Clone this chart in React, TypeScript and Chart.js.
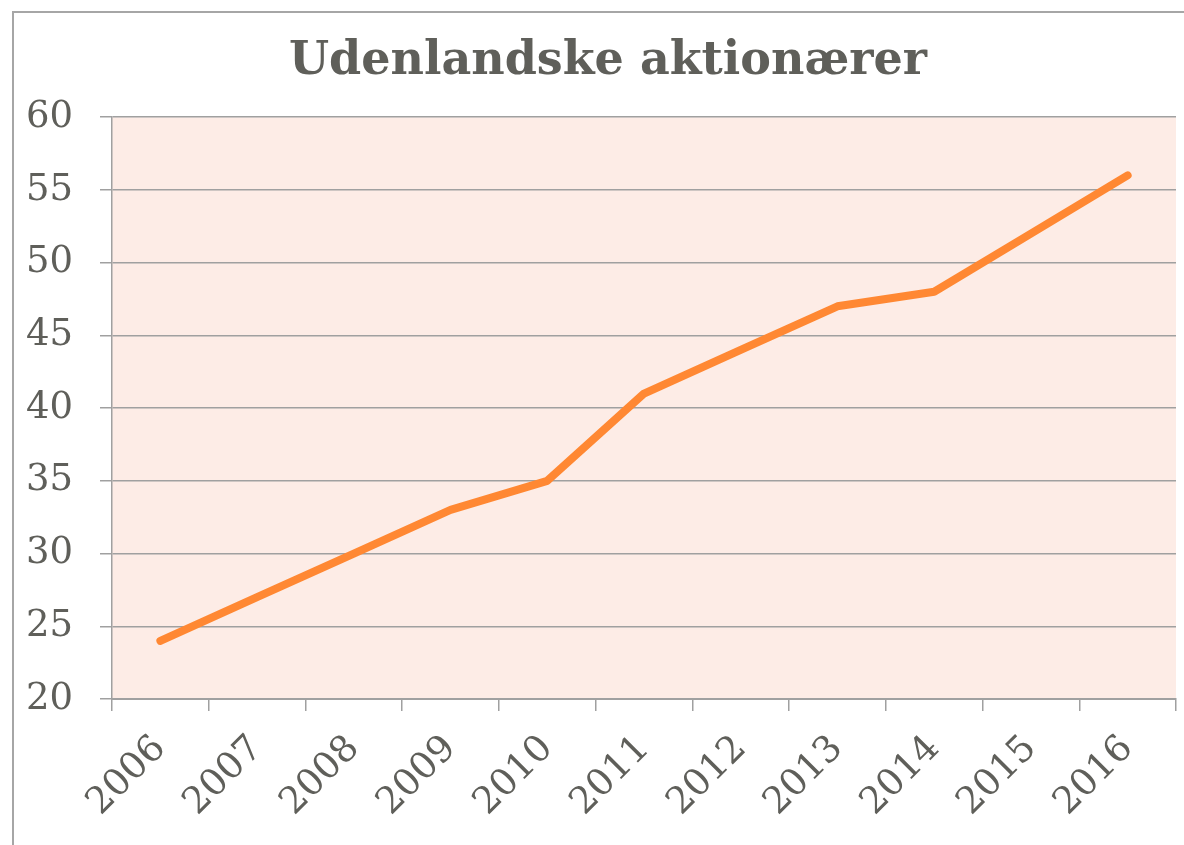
import React, { useEffect, useRef } from "react";
import { Chart, registerables } from "chart.js";

Chart.register(...registerables);

const years = ["2006", "2007", "2008", "2009", "2010", "2011", "2012", "2013", "2014", "2015", "2016"];
const foreignShare = [24, 27, 30, 33, 35, 41, 44, 47, 48, 52, 56];
const chartTitle = "Udenlandske aktionærer";
const yMin = 20;
const yMax = 60;
const yStep = 5;

const TEXT = "#5F5F5A";
const GRID = "#A0A0A0";

const plotBg = {
  id: "plotBg",
  beforeDraw(chart: any) {
    const { ctx, chartArea } = chart;
    ctx.save();
    ctx.fillStyle = "#FDECE6";
    ctx.fillRect(chartArea.left, chartArea.top, chartArea.right - chartArea.left, chartArea.bottom - chartArea.top);
    ctx.restore();
  },
};

// shift the title box so the title is centred where the reference has it
const titleShift = {
  id: "titleShift",
  afterLayout(chart: any) {
    if (chart.titleBlock) {
      chart.titleBlock.left = 40;
    }
  },
};

export default function App() {
  const ref = useRef<HTMLCanvasElement | null>(null);
  useEffect(() => {
    if (!ref.current) return;
    const chart = new Chart(ref.current, {
      type: "line",
      data: {
        labels: years,
        datasets: [
          {
            data: foreignShare,
            borderColor: "#FF8833",
            borderWidth: 8,
            borderCapStyle: "round",
            borderJoinStyle: "round",
            pointRadius: 0,
            tension: 0,
            fill: false,
          },
        ],
      },
      options: {
        responsive: false,
        animation: false,
        layout: { padding: { top: 16, left: 12, right: 8, bottom: 0 } },
        plugins: {
          legend: { display: false },
          tooltip: { enabled: false },
          title: {
            display: true,
            text: chartTitle,
            color: TEXT,
            font: { family: "'DejaVu Serif', serif", size: 46, weight: "bold" },
            padding: { top: 18, bottom: 28 },
          },
        },
        scales: {
          x: {
            offset: true,
            border: { display: true, color: GRID, width: 2 },
            grid: { drawOnChartArea: false, drawTicks: true, tickLength: 12, color: GRID, lineWidth: 1.5, offset: true },
            ticks: {
              color: TEXT,
              font: { family: "'DejaVu Serif', serif", size: 37 },
              minRotation: 45,
              maxRotation: 45,
              padding: 16,
            },
            afterFit: (s: any) => {
              s.height = 146;
              s.paddingRight = 0;
              s.paddingLeft = 0;
            },
          },
          y: {
            min: yMin,
            max: yMax,
            border: { display: true, color: GRID, width: 1.5 },
            grid: { color: GRID, lineWidth: 1.5, tickLength: 12 },
            ticks: {
              stepSize: yStep,
              color: TEXT,
              font: { family: "'DejaVu Serif', serif", size: 37 },
              padding: 27,
            },
            afterFit: (s: any) => {
              s.width = 100;
            },
          },
        },
      },
      plugins: [plotBg, titleShift],
    });
    return () => chart.destroy();
  }, []);

  return (
    <>
      <div
        style={{
          position: "fixed",
          left: 12,
          top: 11,
          width: 1172,
          height: 834,
          boxSizing: "border-box",
          borderLeft: "2px solid #A6A6A6",
          borderTop: "2px solid #A6A6A6",
        }}
      />
      <div style={{ position: "fixed", left: 0, top: 0, width: 1184, height: 845 }}>
        <canvas ref={ref} width={1184} height={845} style={{ width: 1184, height: 845, display: "block" }} />
      </div>
    </>
  );
}
